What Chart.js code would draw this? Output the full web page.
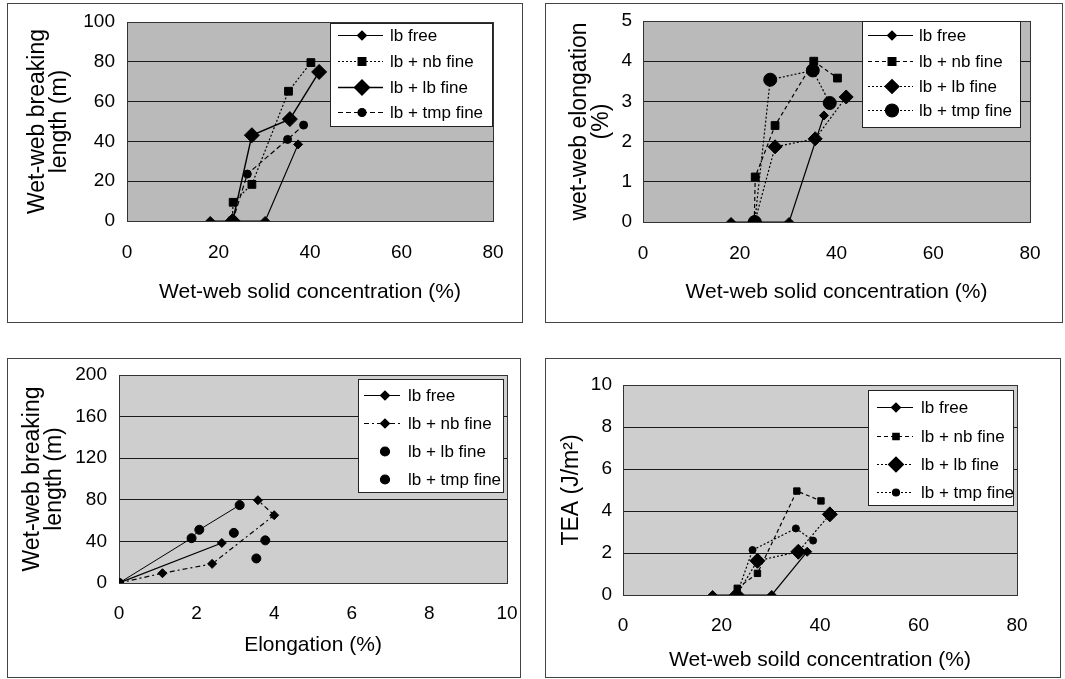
<!DOCTYPE html>
<html>
<head>
<meta charset="utf-8">
<script src="https://cdn.jsdelivr.net/npm/chart.js@4/dist/chart.umd.min.js"></script>
<style>
  html, body { margin: 0; padding: 0; background: #fff; }
  body { width: 1065px; height: 679px; position: relative; overflow: hidden; }
  .panel { position: absolute; border: 1px solid #444; }
  .panel canvas { display: block; }
</style>
</head>
<body>
<div class="panel" style="left:7px;top:3px;width:514px;height:318px;"><canvas id="c1" width="514" height="318"></canvas></div>
<div class="panel" style="left:545px;top:3px;width:516px;height:318px;"><canvas id="c2" width="516" height="318"></canvas></div>
<div class="panel" style="left:7px;top:358px;width:512px;height:318px;"><canvas id="c3" width="512" height="318"></canvas></div>
<div class="panel" style="left:545px;top:358px;width:514px;height:318px;"><canvas id="c4" width="514" height="318"></canvas></div>
<script>
// ---------- DATA ----------
const seriesNames = ['lb free', 'lb + nb fine', 'lb + lb fine', 'lb + tmp fine'];

// wet-web solid concentration (%) of each measured point
const solidsLbFree  = [18.2, 30.2, 37.4];
const solidsNbFine  = [23.0, 23.2, 27.3, 35.3, 40.2];
const solidsLbFine  = [23.1, 27.3, 35.6, 42.0];
const solidsTmpFine = [23.1, 26.3, 35.1, 38.6];

// wet-web breaking length (m)
const blLbFree  = [0, 0, 38.5];
const blNbFine  = [0, 9.4, 18.4, 65.2, 79.6];
const blLbFine  = [0, 43.1, 51.2, 74.9];
const blTmpFine = [0, 23.6, 41.0, 48.2];

// wet-web elongation (%)
const elLbFree  = [0, 0, 2.65];
const elNbFine  = [0, 1.12, 2.4, 4.0, 3.58];
const elLbFine  = [0, 1.87, 2.07, 3.11];
const elTmpFine = [0, 3.54, 3.77, 2.96];

// TEA (J/m2)
const teaLbFree  = [0, 0, 2.06];
const teaNbFine  = [0, 0.32, 1.03, 4.95, 4.48];
const teaLbFine  = [0, 1.63, 2.06, 3.84];
const teaTmpFine = [0, 2.14, 3.17, 2.59];

// axis ticks
const solidsTicks = [0, 20, 40, 60, 80];
const blTicks     = [0, 20, 40, 60, 80, 100];
const elTicks     = [0, 1, 2, 3, 4, 5];
const bl2Ticks    = [0, 40, 80, 120, 160, 200];
const el2Ticks    = [0, 2, 4, 6, 8, 10];
const teaTicks    = [0, 2, 4, 6, 8, 10];

// ---------- HELPERS ----------
const FONT = "'Liberation Sans', Arial, Helvetica, sans-serif";
const pairs = (xs, ys) => xs.map((x, i) => ({x: x, y: ys[i]}));

function ds(label, data, style) {
  return Object.assign({
    label: label, data: data, showLine: true,
    borderColor: '#000', backgroundColor: '#000',
    pointBorderColor: '#000', pointBackgroundColor: '#000',
    borderWidth: 1.2, pointBorderWidth: 1, borderDash: [],
    pointStyle: 'rectRot', pointRadius: 4
  }, style);
}

function plotPlugins(bg, leg) {
  return [{
    id: 'plotBg',
    beforeDraw(chart) {
      const a = chart.chartArea, c = chart.ctx;
      c.save(); c.fillStyle = bg;
      c.fillRect(a.left, a.top, a.right - a.left, a.bottom - a.top);
      c.restore();
    },
    beforeDatasetsDraw(chart) {
      const a = chart.chartArea, c = chart.ctx;
      c.save(); c.strokeStyle = '#333'; c.lineWidth = 1;
      c.strokeRect(Math.round(a.left) + 0.5, Math.round(a.top) + 0.5,
                   Math.round(a.right - a.left), Math.round(a.bottom - a.top));
      c.restore();
    },
    afterDraw(chart) {
      const c = chart.ctx;
      c.save();
      c.fillStyle = '#fff'; c.strokeStyle = '#222'; c.lineWidth = 1;
      c.fillRect(leg.x, leg.y, leg.w, leg.h);
      c.strokeRect(leg.x + 0.5, leg.y + 0.5, leg.w, leg.h);
      chart.data.datasets.forEach((d, i) => {
        const y = leg.rows[i];
        if (leg.lines[i]) {
          c.beginPath();
          c.setLineDash(d.borderDash || []);
          c.lineWidth = d.borderWidth; c.strokeStyle = '#000';
          c.moveTo(leg.lx0, y + 0.5); c.lineTo(leg.lx1, y + 0.5); c.stroke();
          c.setLineDash([]);
        }
        c.fillStyle = '#000'; c.strokeStyle = '#000';
        Chart.helpers.drawPoint(c, {pointStyle: d.pointStyle, radius: d.pointRadius, borderWidth: 1, rotation: 0}, leg.mx, y + 0.5);
        c.fillStyle = '#000';
        c.font = '17px ' + FONT;
        c.textBaseline = 'middle'; c.textAlign = 'left';
        c.fillText(d.label, leg.tx, y + 1);
      });
      c.restore();
    }
  }];
}

function makeChart(id, cfg) {
  return new Chart(document.getElementById(id), {
    type: 'scatter',
    data: {datasets: cfg.datasets},
    options: {
      responsive: false, animation: false,
      layout: {padding: {left: 0, top: cfg.padTop, right: cfg.padRight, bottom: 0}},
      plugins: {legend: {display: false}, tooltip: {enabled: false}},
      scales: {
        x: {
          type: 'linear', min: cfg.xTicks[0], max: cfg.xTicks[cfg.xTicks.length - 1],
          afterBuildTicks: s => { s.ticks = cfg.xTicks.map(v => ({value: v})); },
          afterFit: s => { s.height = cfg.xHeight; s.paddingLeft = 0; s.paddingRight = 0; },
          grid: {display: false, drawTicks: false},
          border: {display: false},
          ticks: {color: '#000', padding: cfg.xTickPad, maxRotation: 0, autoSkip: false,
                  font: {family: FONT, size: 19}},
          title: {display: true, text: cfg.xTitle, color: '#000',
                  font: {family: FONT, size: 21, lineHeight: 1.2}, padding: {top: 0, bottom: cfg.xTitlePad}}
        },
        y: {
          type: 'linear', min: cfg.yTicks[0], max: cfg.yTicks[cfg.yTicks.length - 1],
          afterBuildTicks: s => { s.ticks = cfg.yTicks.map(v => ({value: v})); },
          afterFit: s => { s.width = cfg.yWidth; s.paddingTop = 0; s.paddingBottom = 0; },
          grid: {color: '#1a1a1a', lineWidth: 1, drawTicks: false},
          border: {display: false},
          ticks: {color: '#000', padding: cfg.yTickPad, autoSkip: false,
                  font: {family: FONT, size: 19}},
          title: {display: true, text: cfg.yTitle, color: '#000',
                  font: {family: FONT, size: 23, lineHeight: 0.96}, padding: {top: cfg.yTitlePad, bottom: 0}}
        }
      }
    },
    plugins: plotPlugins(cfg.bg, cfg.legend)
  });
}

// ---------- PANEL 1 ----------
makeChart('c1', {
  datasets: [
    ds(seriesNames[0], pairs(solidsLbFree, blLbFree),   {pointStyle: 'rectRot', pointRadius: 4.5}),
    ds(seriesNames[1], pairs(solidsNbFine, blNbFine),   {pointStyle: 'rect', pointRadius: 5.5, borderDash: [2, 2]}),
    ds(seriesNames[2], pairs(solidsLbFine, blLbFine),   {pointStyle: 'rectRot', pointRadius: 7.5, borderWidth: 1.4}),
    ds(seriesNames[3], pairs(solidsTmpFine, blTmpFine), {pointStyle: 'circle', pointRadius: 4, borderDash: [5, 3]})
  ],
  xTicks: solidsTicks, yTicks: blTicks,
  padTop: 18, padRight: 29, xHeight: 101, yWidth: 119,
  xTickPad: 20, yTickPad: 12, xTitlePad: 17.4, yTitlePad: 19,
  xTitle: 'Wet-web solid concentration (%)', yTitle: ['Wet-web breaking', 'length (m)'],
  bg: '#bababa',
  legend: {x: 322, y: 19, w: 162, h: 103, rows: [31, 57, 83, 108], lx0: 330, lx1: 375, mx: 354, tx: 382,
           lines: [true, true, true, true]}
});

// ---------- PANEL 2 ----------
makeChart('c2', {
  datasets: [
    ds(seriesNames[0], pairs(solidsLbFree, elLbFree),   {pointStyle: 'rectRot', pointRadius: 4.5}),
    ds(seriesNames[1], pairs(solidsNbFine, elNbFine),   {pointStyle: 'rect', pointRadius: 5.5, borderDash: [4, 3]}),
    ds(seriesNames[2], pairs(solidsLbFine, elLbFine),   {pointStyle: 'rectRot', pointRadius: 7, borderDash: [2, 2]}),
    ds(seriesNames[3], pairs(solidsTmpFine, elTmpFine), {pointStyle: 'circle', pointRadius: 6.5, borderDash: [2, 2]})
  ],
  xTicks: solidsTicks, yTicks: elTicks,
  padTop: 17, padRight: 32, xHeight: 100, yWidth: 97,
  xTickPad: 20, yTickPad: 11, xTitlePad: 17.4, yTitlePad: 23,
  xTitle: 'Wet-web solid concentration (%)', yTitle: ['wet-web elongation', '(%)'],
  bg: '#bababa',
  legend: {x: 316, y: 17, w: 158, h: 106, rows: [31, 57, 82, 106], lx0: 322, lx1: 367, mx: 346, tx: 373,
           lines: [true, true, true, true]}
});

// ---------- PANEL 3 ----------
makeChart('c3', {
  datasets: [
    ds(seriesNames[0], pairs(elLbFree, blLbFree),   {pointStyle: 'rectRot', pointRadius: 4.5}),
    ds(seriesNames[1], pairs(elNbFine, blNbFine),   {pointStyle: 'rectRot', pointRadius: 4.5, borderDash: [5, 3, 2, 3]}),
    ds(seriesNames[2], pairs(elLbFine, blLbFine),   {pointStyle: 'circle', pointRadius: 4.5, borderWidth: 1}),
    ds(seriesNames[3], pairs(elTmpFine, blTmpFine), {pointStyle: 'circle', pointRadius: 4.5, showLine: false})
  ],
  xTicks: el2Ticks, yTicks: bl2Ticks,
  padTop: 16, padRight: 13, xHeight: 94, yWidth: 111,
  xTickPad: 19, yTickPad: 12, xTitlePad: 19.4, yTitlePad: 14,
  xTitle: 'Elongation (%)', yTitle: ['Wet-web breaking', 'length (m)'],
  bg: '#cecece',
  legend: {x: 350, y: 20, w: 145, h: 113, rows: [36, 64, 92, 120], lx0: 356, lx1: 392, mx: 377, tx: 400,
           lines: [true, true, false, false]}
});

// ---------- PANEL 4 ----------
makeChart('c4', {
  datasets: [
    ds(seriesNames[0], pairs(solidsLbFree, teaLbFree),   {pointStyle: 'rectRot', pointRadius: 4.5}),
    ds(seriesNames[1], pairs(solidsNbFine, teaNbFine),   {pointStyle: 'rect', pointRadius: 4.5, borderDash: [4, 3]}),
    ds(seriesNames[2], pairs(solidsLbFine, teaLbFine),   {pointStyle: 'rectRot', pointRadius: 7.5, borderDash: [2, 2]}),
    ds(seriesNames[3], pairs(solidsTmpFine, teaTmpFine), {pointStyle: 'circle', pointRadius: 3.5, borderDash: [2, 2]})
  ],
  xTicks: solidsTicks, yTicks: teaTicks,
  padTop: 26, padRight: 43, xHeight: 82, yWidth: 77,
  xTickPad: 19, yTickPad: 11, xTitlePad: 4.4, yTitlePad: 15,
  xTitle: 'Wet-web soild concentration (%)', yTitle: 'TEA (J/m\u00B2)',
  bg: '#cecece',
  legend: {x: 322, y: 31, w: 145, h: 115, rows: [48, 77, 105, 133], lx0: 331, lx1: 367, mx: 350, tx: 375,
           lines: [true, true, true, true]}
});
</script>
</body>
</html>
